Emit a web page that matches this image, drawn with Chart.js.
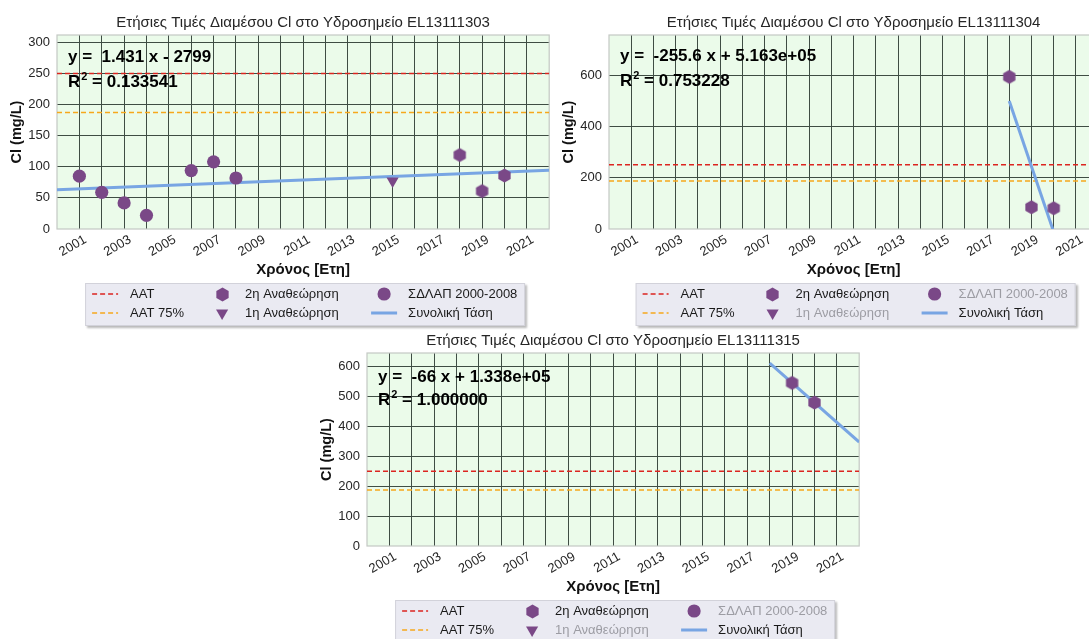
<!DOCTYPE html>
<html>
<head>
<meta charset="utf-8">
<script src="https://cdn.jsdelivr.net/npm/chart.js@4/dist/chart.umd.min.js"></script>
<style>
  html, body { margin: 0; padding: 0; background: #ffffff; overflow: hidden; width: 1089px; height: 639px; }
  .panel { position: absolute; }
</style>
</head>
<body>
<div class="panel" style="left:0px;top:0px"><canvas id="st03" width="560" height="330"></canvas></div>
<div class="panel" style="left:549px;top:0px"><canvas id="st04" width="560" height="330"></canvas></div>
<div class="panel" style="left:310px;top:318px"><canvas id="st15" width="560" height="330"></canvas></div>
<script>
// ---- Annual median chloride (Cl, mg/L) per monitoring point ----
const xTickLabels = ['2001', '2003', '2005', '2007', '2009', '2011', '2013', '2015', '2017', '2019', '2021'];

// EL13111303
const st03SdlapYears = [2001, 2002, 2003, 2004, 2006, 2007, 2008];
const st03SdlapCl    = [85, 59, 42, 22, 94, 108, 82];
const st03Rev1Years  = [2015];
const st03Rev1Cl     = [77];
const st03Rev2Years  = [2018, 2019, 2020];
const st03Rev2Cl     = [119, 61, 86];
const st03Trend      = [1.431, -2799];      // slope, intercept
const st03R2         = 0.133541;

// EL13111304
const st04SdlapYears = [];
const st04SdlapCl    = [];
const st04Rev1Years  = [];
const st04Rev1Cl     = [];
const st04Rev2Years  = [2018, 2019, 2020];
const st04Rev2Cl     = [593, 85, 81];
const st04Trend      = [-255.6, 516300];
const st04R2         = 0.753228;

// EL13111315
const st15SdlapYears = [];
const st15SdlapCl    = [];
const st15Rev1Years  = [];
const st15Rev1Cl     = [];
const st15Rev2Years  = [2019, 2020];
const st15Rev2Cl     = [546, 480];
const st15Trend      = [-66, 133800];
const st15R2         = 1.0;

// Limit values
const aatLimit   = 250;
const aat75Limit = 187.5;

// ---- Styling ----
const FONT = '"Liberation Sans", Arial, Helvetica, sans-serif';
const PURPLE = '#7a4887';
const BLUE = '#78a5e3';
const RED = '#dc2520';
const ORANGE = '#f6a81c';
const GRID = '#3f4d44';
const PLOT_BG = '#ebfbea';
const FRAME = '#c4c8c4';
const TRANSPARENT = 'rgba(0,0,0,0)';

function hexagonSprite(r, color) {
  const s = Math.ceil(r * 2) + 2;
  const c = document.createElement('canvas');
  c.width = s; c.height = s;
  const g = c.getContext('2d');
  g.fillStyle = color;
  g.beginPath();
  for (let i = 0; i < 6; i++) {
    const a = -Math.PI / 2 + i * Math.PI / 3;
    const px = s / 2 + r * Math.cos(a), py = s / 2 + r * Math.sin(a);
    if (i) g.lineTo(px, py); else g.moveTo(px, py);
  }
  g.closePath();
  g.fill();
  return c;
}
const HEX = hexagonSprite(7.1, PURPLE);

// %.4g style number text
function g4(v) {
  if (v === 0) return '0';
  const e = Math.floor(Math.log10(Math.abs(v)));
  if (e < -4 || e >= 4) {
    let m = (v / Math.pow(10, e)).toPrecision(4);
    if (m.indexOf('.') >= 0) m = m.replace(/0+$/, '').replace(/\.$/, '');
    return m + 'e' + (e < 0 ? '-' : '+') + String(Math.abs(e)).padStart(2, '0');
  }
  return String(Number(v.toPrecision(4)));
}

const pts = (xs, ys) => xs.map((x, i) => ({ x: x, y: ys[i] }));

function buildDatasets(s) {
  const [slope, icpt] = s.trend;
  const t0 = s.trendFrom, t1 = 2022;
  return [
    { label: '2η Αναθεώρηση', data: pts(s.rev2Years, s.rev2Cl), pointStyle: HEX,
      pointRadius: 7.5, backgroundColor: PURPLE, borderWidth: 0, showLine: false },
    { label: '1η Αναθεώρηση', data: pts(s.rev1Years, s.rev1Cl), pointStyle: 'triangle', rotation: 180,
      pointRadius: 7, backgroundColor: PURPLE, borderColor: PURPLE, borderWidth: 0, showLine: false },
    { label: 'ΣΔΛΑΠ 2000-2008', data: pts(s.sdlapYears, s.sdlapCl), pointStyle: 'circle',
      pointRadius: 6.6, backgroundColor: PURPLE, borderWidth: 0, showLine: false },
    { label: 'Συνολική Τάση', data: [{ x: t0, y: slope * t0 + icpt }, { x: t1, y: slope * t1 + icpt }],
      showLine: true, borderColor: BLUE, borderWidth: 3, pointRadius: 0, clip: 0 },
    { label: 'ΑΑΤ', data: [{ x: 2000, y: aatLimit }, { x: 2022, y: aatLimit }],
      showLine: true, borderColor: RED, borderWidth: 1.5, borderDash: [5, 3], pointRadius: 0, clip: 0 },
    { label: 'ΑΑΤ 75%', data: [{ x: 2000, y: aat75Limit }, { x: 2022, y: aat75Limit }],
      showLine: true, borderColor: ORANGE, borderWidth: 1.5, borderDash: [5, 3], pointRadius: 0, clip: 0 }
  ];
}

function drawLegendSymbol(ctx, ds, cx, cy) {
  ctx.save();
  if (ds.showLine) {
    ctx.strokeStyle = ds.borderColor;
    ctx.lineWidth = ds.borderWidth;
    ctx.setLineDash(ds.borderDash || []);
    ctx.beginPath();
    ctx.moveTo(cx - 13, cy); ctx.lineTo(cx + 13, cy);
    ctx.stroke();
  } else {
    ctx.fillStyle = PURPLE;
    if (ds.pointStyle === HEX) {
      ctx.drawImage(HEX, Math.round(cx - HEX.width / 2), Math.round(cy - HEX.height / 2));
    } else if (ds.pointStyle === 'triangle') {
      const r = 7;
      ctx.beginPath();
      ctx.moveTo(cx, cy + r);
      ctx.lineTo(cx - r * Math.sin(Math.PI / 3), cy - r / 2);
      ctx.lineTo(cx + r * Math.sin(Math.PI / 3), cy - r / 2);
      ctx.closePath(); ctx.fill();
    } else {
      ctx.beginPath(); ctx.arc(cx, cy, 6.6, 0, Math.PI * 2); ctx.fill();
    }
  }
  ctx.restore();
}

function makeDeco(s) {
  return {
    id: 'deco',
    beforeDraw(chart) {
      const { ctx, chartArea: a } = chart;
      ctx.save();
      ctx.fillStyle = PLOT_BG;
      ctx.fillRect(a.left, a.top, a.right - a.left, a.bottom - a.top);
      ctx.restore();
    },
    beforeDatasetsDraw(chart) {
      const { ctx, chartArea: a } = chart;
      ctx.save();
      ctx.strokeStyle = FRAME;
      ctx.lineWidth = 1.2;
      ctx.strokeRect(a.left, a.top, a.right - a.left, a.bottom - a.top);
      ctx.restore();
    },
    afterDraw(chart) {
      const { ctx, chartArea: a } = chart;
      const dsets = chart.data.datasets;
      ctx.save();
      // title
      ctx.font = '15px ' + FONT;
      ctx.fillStyle = '#262626';
      ctx.textAlign = 'center';
      ctx.textBaseline = 'middle';
      ctx.fillText('Ετήσιες Τιμές Διαμέσου Cl στο Υδροσημείο ' + s.code, (a.left + a.right) / 2, a.top - 12);

      // trend equation and R^2
      const [slope, icpt] = s.trend;
      const eq = 'y =  ' + g4(slope) + ' x ' + (icpt < 0 ? '-' : '+') + ' ' + g4(Math.abs(icpt));
      ctx.textAlign = 'left';
      ctx.textBaseline = 'alphabetic';
      ctx.fillStyle = '#000';
      ctx.font = 'bold 17px ' + FONT;
      let x = a.left + 11;
      ctx.fillText(eq, x, a.top + s.eqBase[0]);
      const yb = a.top + s.eqBase[1];
      ctx.fillText('R', x, yb);
      x += ctx.measureText('R').width + 1;
      ctx.font = 'bold 11px ' + FONT;
      ctx.fillText('2', x, yb - 7);
      x += ctx.measureText('2').width;
      ctx.font = 'bold 17px ' + FONT;
      ctx.fillText(' = ' + s.r2.toFixed(6), x, yb);

      // legend box
      const bw = 440, bh = 43;
      const bx = (a.left + a.right) / 2 - bw / 2 + 2;
      const by = a.bottom + 54;
      ctx.save();
      ctx.shadowColor = 'rgba(0,0,0,0.28)';
      ctx.shadowOffsetX = 2; ctx.shadowOffsetY = 2; ctx.shadowBlur = 2;
      ctx.fillStyle = '#eaeaf2';
      ctx.fillRect(bx, by, bw, bh);
      ctx.restore();
      ctx.strokeStyle = '#d2d2da';
      ctx.lineWidth = 1;
      ctx.strokeRect(bx + 0.5, by + 0.5, bw - 1, bh - 1);

      const byLabel = l => dsets.find(d => d.label === l);
      const cols = [
        { sym: 20, txt: 45, items: ['ΑΑΤ', 'ΑΑΤ 75%'] },
        { sym: 137, txt: 160, items: ['2η Αναθεώρηση', '1η Αναθεώρηση'] },
        { sym: 299, txt: 323, items: ['ΣΔΛΑΠ 2000-2008', 'Συνολική Τάση'] }
      ];
      const rows = [by + 11, by + 30];
      ctx.font = '13px ' + FONT;
      ctx.textBaseline = 'middle';
      cols.forEach(c => {
        c.items.forEach((lab, r) => {
          const ds = byLabel(lab);
          drawLegendSymbol(ctx, ds, bx + c.sym, rows[r]);
          ctx.fillStyle = ds.data.length ? '#1a1a1a' : '#9c9ca3';
          ctx.fillText(lab, bx + c.txt, rows[r] + 0.5);
        });
      });
      ctx.restore();
    }
  };
}

function makeChart(canvasId, s) {
  const W = 560, H = 330, axisH = 52;
  const cfg = {
    type: 'scatter',
    data: { datasets: buildDatasets(s) },
    options: {
      responsive: false,
      animation: false,
      events: [],
      layout: { padding: { left: 0, top: s.plot.top, right: W - s.plot.right, bottom: H - s.plot.bottom - axisH } },
      plugins: { legend: { display: false }, tooltip: { enabled: false }, title: { display: false } },
      scales: {
        x: {
          type: 'linear', min: 2000, max: 2022,
          afterFit: sc => { sc.height = axisH; },
          border: { display: false },
          grid: {
            drawTicks: false, lineWidth: 1,
            color: c => (c.tick && (c.tick.value === 2000 || c.tick.value === 2022)) ? TRANSPARENT : GRID
          },
          ticks: {
            stepSize: 1, autoSkip: false, includeBounds: false,
            minRotation: 30, maxRotation: 30, padding: 3, labelOffset: 6,
            color: '#262626', font: { family: FONT, size: 13 },
            callback: v => xTickLabels.includes(String(v)) ? String(v) : ''
          },
          title: { display: true, text: 'Χρόνος [Ετη]', color: '#111',
                   font: { family: FONT, size: 15, weight: 'bold' }, padding: { top: 0, bottom: 2 } }
        },
        y: {
          type: 'linear', min: 0, max: s.yMax,
          afterFit: sc => { sc.width = s.plot.left; },
          border: { display: false },
          grid: {
            drawTicks: false, lineWidth: 1,
            color: c => (c.tick && c.tick.value === 0) ? TRANSPARENT : GRID
          },
          ticks: { stepSize: s.yStep, includeBounds: false, padding: 7,
                   color: '#262626', font: { family: FONT, size: 13 } },
          title: { display: true, text: 'Cl (mg/L)', color: '#111',
                   font: { family: FONT, size: 14.5, weight: 'bold' },
                   padding: { top: s.plot.left - 40 - 8.7, bottom: 0 } }
        }
      }
    },
    plugins: [makeDeco(s)]
  };
  return new Chart(document.getElementById(canvasId), cfg);
}

makeChart('st03', {
  code: 'EL13111303',
  sdlapYears: st03SdlapYears, sdlapCl: st03SdlapCl,
  rev1Years: st03Rev1Years, rev1Cl: st03Rev1Cl,
  rev2Years: st03Rev2Years, rev2Cl: st03Rev2Cl,
  trend: st03Trend, trendFrom: 2000, r2: st03R2,
  yMax: 312, yStep: 50,
  plot: { left: 57, right: 552, top: 35, bottom: 229 },
  eqBase: [27, 52]
});

makeChart('st04', {
  code: 'EL13111304',
  sdlapYears: st04SdlapYears, sdlapCl: st04SdlapCl,
  rev1Years: st04Rev1Years, rev1Cl: st04Rev1Cl,
  rev2Years: st04Rev2Years, rev2Cl: st04Rev2Cl,
  trend: st04Trend, trendFrom: 2018, r2: st04R2,
  yMax: 756, yStep: 200,
  plot: { left: 60, right: 554, top: 35, bottom: 229 },
  eqBase: [26, 51]
});

makeChart('st15', {
  code: 'EL13111315',
  sdlapYears: st15SdlapYears, sdlapCl: st15SdlapCl,
  rev1Years: st15Rev1Years, rev1Cl: st15Rev1Cl,
  rev2Years: st15Rev2Years, rev2Cl: st15Rev2Cl,
  trend: st15Trend, trendFrom: 2018, r2: st15R2,
  yMax: 646, yStep: 100,
  plot: { left: 57, right: 552, top: 35, bottom: 228 },
  eqBase: [29, 52]
});
</script>
</body>
</html>
